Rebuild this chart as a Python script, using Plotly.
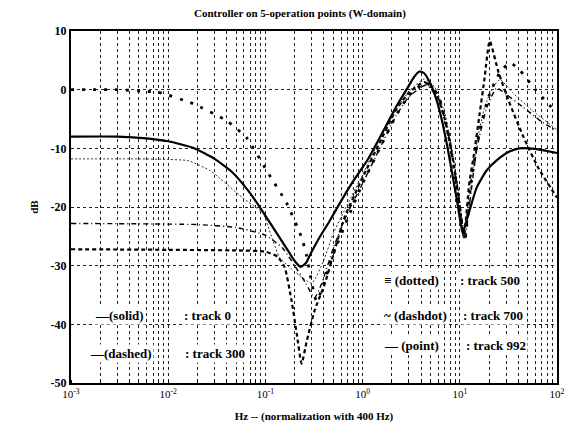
import plotly.graph_objects as go

title_text = "Controller on 5-operation points (W-domain)"
x_title = "Hz -- (normalization with 400 Hz)"
y_title = "dB"
x_tick_vals = [0.001, 0.01, 0.1, 1, 10, 100]
x_tick_text = ["10<sup>-3</sup>", "10<sup>-2</sup>", "10<sup>-1</sup>", "10<sup>0</sup>", "10<sup>1</sup>", "10<sup>2</sup>"]
y_tick_vals = [10, 0, -10, -20, -30, -40, -50]

# track 0 (solid)
f_track0 = [0.001, 0.003, 0.006, 0.01, 0.018, 0.03, 0.045, 0.065, 0.09, 0.12, 0.16, 0.2, 0.23, 0.26,
            0.3, 0.36, 0.45, 0.6, 0.8, 1.13, 1.6, 2.2, 2.9, 3.4, 3.85, 4.3, 5.0, 5.7, 6.5, 7.5, 8.5,
            9.6, 10.7, 11.5, 12.6, 14.9, 18.8, 23.8, 32, 41, 60, 100]
db_track0 = [-8.0, -8.0, -8.3, -8.8, -9.9, -11.8, -14.0, -17.0, -20.3, -23.5, -26.7, -29.2, -30.2, -29.6,
             -27.6, -25.2, -22.6, -19.0, -15.6, -11.9, -7.3, -3.0, 0.3, 2.2, 3.1, 2.8, 1.0, -1.5, -5.0,
             -10.0, -15.0, -20.0, -24.5, -22.8, -20.6, -16.7, -13.8, -12.1, -10.6, -10.0, -10.1, -10.8]

# track 300 (dashed)
f_track300 = [0.001, 0.01, 0.05, 0.1, 0.134, 0.158, 0.186, 0.21, 0.236, 0.265, 0.32, 0.41, 0.515, 0.65,
              1.0, 1.5, 2.2, 3.0, 4.3, 5.5, 7.0, 8.5, 10.0, 11.0, 12.5, 14.0, 16.0, 18.0, 20.3, 25, 32,
              45, 65, 100]
db_track300 = [-27.2, -27.3, -27.4, -27.6, -28.5, -30.3, -36.0, -41.6, -46.7, -43.0, -37.7, -33.0, -27.4,
               -21.8, -15.0, -9.0, -3.5, -0.5, 1.3, 0.0, -5.0, -12.0, -20.0, -25.2, -16.0, -11.0, -4.1,
               2.0, 8.3, 3.0, -2.0, -8.0, -13.5, -18.4]

# track 500 (dotted)
f_track500 = [0.001, 0.005, 0.01, 0.016, 0.027, 0.058, 0.08, 0.094, 0.14, 0.2, 0.3, 0.4, 0.5, 0.7, 1.0,
              1.5, 2.2, 3.0, 4.3, 5.5, 7.0, 8.5, 10.0, 11.0, 12.5, 15.0, 18.0, 22.0, 26.0, 35.0, 55.0, 100]
db_track500 = [-11.8, -11.8, -11.9, -12.1, -13.8, -18.4, -20.1, -21.0, -28.6, -31.0, -33.0, -29.0,
               -24.5, -19.5, -14.5, -8.5, -3.5, -0.3, 1.8, 0.5, -4.0, -11.0, -19.0, -25.0, -18.0, -9.0,
               -3.0, 0.5, 1.7, -0.5, -3.5, -6.8]

# track 700 (dashdot)
f_track700 = [0.001, 0.02, 0.05, 0.1, 0.15, 0.2, 0.26, 0.32, 0.38, 0.5, 0.7, 1.0, 1.5, 2.2, 3.0, 4.5,
              6.0, 7.5, 9.0, 10.5, 11.3, 12.5, 15.0, 19.0, 24.0, 30.0, 45.0, 70.0, 100]
db_track700 = [-22.8, -23.0, -23.5, -24.8, -27.0, -30.0, -33.0, -35.5, -33.0, -27.0, -21.0, -16.0,
               -10.0, -4.5, -1.2, 0.8, -1.5, -7.0, -14.0, -22.0, -25.5, -20.0, -10.0, -3.0, 0.3, -0.8,
               -3.0, -5.5, -7.0]

# track 992 (point)
f_track992 = [0.001, 0.003, 0.006, 0.0082, 0.018, 0.04, 0.064, 0.103, 0.166, 0.236, 0.265, 0.336, 0.5,
              0.7, 1.0, 1.5, 2.2, 3.0, 4.5, 6.0, 7.5, 9.0, 10.5, 11.3, 13.0, 16.0, 20.0, 26.0, 33.0,
              42.0, 60.0, 100]
db_track992 = [0.0, 0.0, -0.3, -0.5, -2.4, -5.3, -8.2, -13.8, -19.4, -25.2, -28.3, -36.0, -28.0, -22.0,
               -16.0, -10.0, -4.5, -1.0, 1.2, -1.0, -7.0, -15.0, -23.0, -25.5, -16.0, -7.0, -1.0, 3.0,
               4.6, 3.2, 0.0, -4.0]

series = [
    ("track 0", f_track0, db_track0, dict(color="black", width=2.2, dash="solid")),
    ("track 300", f_track300, db_track300, dict(color="black", width=2.2, dash="4px,3px")),
    ("track 500", f_track500, db_track500, dict(color="#333333", width=1, dash="2px,2px")),
    ("track 700", f_track700, db_track700, dict(color="black", width=1.4, dash="5px,3px,1px,3px")),
    ("track 992", f_track992, db_track992, dict(color="black", width=2.8, dash="3px,8px")),
]

fig = go.Figure()
for name, fx, fy, ln in series:
    fig.add_trace(go.Scatter(x=fx, y=fy, mode="lines", name=name,
                             line=dict(shape="spline", smoothing=0.5, **ln), showlegend=False))

serif = "Liberation Serif"
grid_kw = dict(showgrid=True, gridcolor="#222222", griddash="dot", gridwidth=1)

fig.update_layout(
    width=566, height=435,
    margin=dict(l=71, r=9, t=31, b=52, autoexpand=False),
    paper_bgcolor="white", plot_bgcolor="white",
    font=dict(family=serif, size=11, color="black"),
    title=dict(text="<b>" + title_text + "</b>", x=0.53, xanchor="center", y=0.97, yanchor="middle",
               font=dict(family=serif, size=11, color="black")),
    xaxis=dict(type="log", range=[-3, 2], tickvals=x_tick_vals, ticktext=x_tick_text,
               showline=True, linecolor="black", linewidth=2, mirror=True, ticks="", automargin=False,
               tickfont=dict(family=serif, size=11, color="black"),
               minor=dict(dtick="D1", showgrid=True, gridcolor="#222222", griddash="dot", gridwidth=1,
                          ticks="inside", ticklen=3, tickcolor="black"),
               title=dict(text="<b>" + x_title + "</b>", font=dict(family=serif, size=11), standoff=13),
               zeroline=False, **grid_kw),
    yaxis=dict(range=[-50, 10], tickvals=y_tick_vals, ticktext=["<b>%d</b>" % v for v in y_tick_vals],
               showline=True, linecolor="black", linewidth=2, mirror=True, ticks="", automargin=False,
               tickfont=dict(family=serif, size=12, color="black"),
               title=dict(text="<b>" + y_title + "</b>", font=dict(family=serif, size=11), standoff=10),
               zeroline=False, **grid_kw),
)

legend_rows = [
    ("<b>—(solid)</b>", 93, 315, "<b>: track 0</b>", 182),
    ("<b>—(dashed)</b>", 88, 353, "<b>: track 300</b>", 183),
    ("<b>≡ (dotted)</b>", 382, 280, "<b>: track 500</b>", 458),
    ("<b>~ (dashdot)</b>", 382, 315, "<b>: track 700</b>", 461),
    ("<b>— (point)</b>", 382, 345, "<b>: track 992</b>", 464),
]
for lab, lx, ly, trk, tx in legend_rows:
    for txt, px in ((lab, lx), (trk, tx)):
        fig.add_annotation(text=txt, xref="paper", yref="paper",
                           x=(px - 71) / 486, y=(383 - ly) / 352, xanchor="left", yanchor="middle",
                           showarrow=False, bgcolor="white", borderpad=1,
                           font=dict(family=serif, size=13, color="black"))

fig.write_html("out.html", config={"displayModeBar": False},
               post_script="document.body.style.margin='0px';")
